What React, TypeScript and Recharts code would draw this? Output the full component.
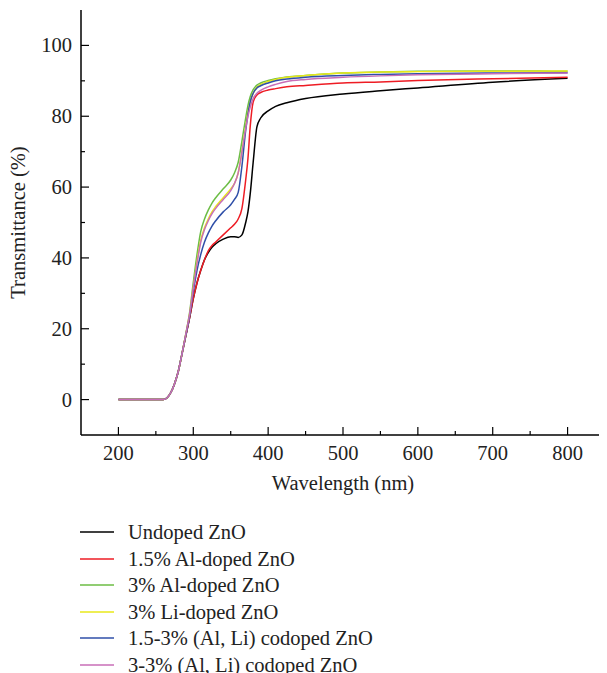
import React from "react";
import { LineChart, Line, XAxis, YAxis, Legend } from "recharts";

const WAVELENGTHS = [200, 255, 260, 265, 270, 275, 280, 285, 290, 295, 300, 305, 310, 315, 320, 325, 330, 340, 350, 355, 360, 365, 370, 373, 376, 380, 385, 390, 400, 410, 425, 450, 500, 550, 600, 700, 800];

const UNDOPED = [0, 0, 0, 0.5, 2, 4.5, 8, 13, 18, 23, 28.5, 33, 36.5, 39.5, 41.5, 43, 44, 45.3, 46, 46, 45.8, 46.5, 50, 53, 58, 67, 77, 79.5, 81.5, 82.8, 83.8, 85, 86.3, 87.2, 88, 89.6, 90.7];
const AL15 = [0, 0, 0, 0.5, 2, 4.5, 8, 13, 18, 23, 28.5, 33, 36.5, 39.5, 42, 43.5, 44.5, 46.5, 48.5, 49.5, 51, 54, 62, 68, 77, 84, 86, 86.7, 87.4, 87.8, 88.3, 88.7, 89.4, 89.7, 90.1, 90.6, 91];
const AL3 = [0, 0, 0, 0.5, 2, 4.5, 8, 13, 18.5, 24.5, 33, 41, 47.5, 51, 53.5, 55.5, 57, 59.5, 62, 64, 67, 73, 79.5, 83, 85.5, 87.5, 88.8, 89.4, 90.1, 90.6, 91.1, 91.5, 92.2, 92.5, 92.7, 92.8, 92.7];
const LI3 = [0, 0, 0, 0.5, 2, 4.5, 8, 13, 18.5, 24, 31.5, 39, 45, 48.5, 51, 53, 54.5, 57, 59.5, 61, 64, 70, 77, 81, 84, 86.5, 88.2, 89, 89.8, 90.4, 91, 91.5, 92.2, 92.5, 92.6, 92.7, 92.8];
const CO15 = [0, 0, 0, 0.5, 2, 4.5, 8, 13, 18.2, 23.5, 30.5, 36.5, 41, 44.5, 47, 49, 50.5, 53, 55, 56.5, 58.5, 66, 76, 80.5, 84, 86.5, 88, 88.6, 89.4, 90, 90.5, 91, 91.5, 91.8, 92, 92.2, 92.3];
const CO3 = [0, 0, 0, 0.5, 2, 4.5, 8, 13, 18.5, 24, 31.5, 38.5, 44.5, 48, 50.5, 52.5, 54, 56.5, 59, 61, 64, 70, 76.5, 80, 82.5, 85, 86.5, 87.3, 88.3, 89, 89.8, 90.4, 91, 91.4, 91.7, 92, 92.2];

const SERIES_NAMES = ["Undoped ZnO", "1.5% Al-doped ZnO", "3% Al-doped ZnO", "3% Li-doped ZnO", "1.5-3% (Al, Li) codoped ZnO", "3-3% (Al, Li) codoped ZnO"];
const SERIES_VALUES = [UNDOPED, AL15, AL3, LI3, CO15, CO3];
const SERIES_COLORS = ["#000000", "#ee1c24", "#6cbd45", "#e8e81a", "#2f4fa8", "#c86eb7"];

const X_TICKS = [200, 250, 300, 350, 400, 450, 500, 550, 600, 650, 700, 750, 800];
const Y_TICKS = [0, 10, 20, 30, 40, 50, 60, 70, 80, 90, 100];
const X_DOMAIN = [150, 850];
const Y_DOMAIN = [-10, 110];

const X_TITLE = "Wavelength (nm)";
const Y_TITLE = "Transmittance (%)";

const FONT = "'Liberation Serif', 'DejaVu Serif', serif";
const FS = 20.5;

const data = WAVELENGTHS.map((w, i) => {
  const row: any = { w };
  SERIES_VALUES.forEach((arr, k) => {
    row["s" + k] = arr[i];
  });
  return row;
});

const XTick = (props: any) => {
  const { x, y, payload } = props;
  const major = payload.value % 100 === 0;
  return (
    <g>
      <line x1={x} x2={x} y1={y} y2={y - (major ? 8 : 4)} stroke="#000" strokeWidth={1.2} />
      {major && (
        <text x={x} y={y + 18} textAnchor="middle" dominantBaseline="central" fontFamily={FONT} fontSize={FS} fill="#222">
          {payload.value}
        </text>
      )}
    </g>
  );
};

const YTick = (props: any) => {
  const { x, y, payload } = props;
  const major = payload.value % 20 === 0;
  return (
    <g>
      <line x1={x} x2={x + (major ? 8 : 4)} y1={y} y2={y} stroke="#000" strokeWidth={1.2} />
      {major && (
        <text x={x - 9} y={y} textAnchor="end" dominantBaseline="central" fontFamily={FONT} fontSize={FS} fill="#222">
          {payload.value}
        </text>
      )}
    </g>
  );
};

const XTitle = (props: any) => {
  const vb = props.viewBox;
  return (
    <text x={vb.x + vb.width / 2} y={vb.y + 48} textAnchor="middle" dominantBaseline="central" fontFamily={FONT} fontSize={FS} fill="#222">
      {X_TITLE}
    </text>
  );
};

const YTitle = (props: any) => {
  const vb = props.viewBox;
  const cx = vb.x + 10;
  const cy = vb.y + vb.height / 2;
  return (
    <text x={cx} y={cy} transform={`rotate(-90 ${cx} ${cy})`} textAnchor="middle" dominantBaseline="central" fontFamily={FONT} fontSize={FS} fill="#222">
      {Y_TITLE}
    </text>
  );
};

const LegendContent = () => (
  <div style={{ fontFamily: FONT, fontSize: FS, color: "#222", lineHeight: "26.5px" }}>
    {SERIES_NAMES.map((name, k) => (
      <div key={name} style={{ display: "flex", alignItems: "center", height: 26.5, whiteSpace: "nowrap" }}>
        <svg width={48} height={10} style={{ display: "block" }}>
          <line x1={0} x2={34} y1={5} y2={5} stroke={SERIES_COLORS[k]} strokeWidth={1.5} />
        </svg>
        <span>{name}</span>
      </div>
    ))}
  </div>
);

export default function App() {
  return (
    <LineChart width={599} height={665} data={data} margin={{ top: 2, right: 2, left: 0, bottom: 178 }}>
      <XAxis
        dataKey="w"
        type="number"
        domain={X_DOMAIN}
        ticks={X_TICKS}
        interval={0}
        allowDataOverflow
        tick={<XTick />}
        tickLine={false}
        tickSize={0}
        tickMargin={0}
        height={60}
        axisLine={{ stroke: "#000", strokeWidth: 1.5 }}
        label={<XTitle />}
      />
      <XAxis xAxisId="top" orientation="top" type="number" domain={X_DOMAIN} height={0} tick={false} tickLine={false} axisLine={{ stroke: "#000", strokeWidth: 1.5 }} />
      <YAxis
        type="number"
        domain={Y_DOMAIN}
        ticks={Y_TICKS}
        interval={0}
        allowDataOverflow
        tick={<YTick />}
        tickLine={false}
        tickSize={0}
        tickMargin={0}
        width={73}
        axisLine={{ stroke: "#000", strokeWidth: 1.5 }}
        label={<YTitle />}
      />
      <YAxis yAxisId="right" orientation="right" type="number" domain={Y_DOMAIN} width={0} tick={false} tickLine={false} axisLine={{ stroke: "#000", strokeWidth: 1.5 }} />
      <Legend
        layout="vertical"
        align="center"
        verticalAlign="middle"
        content={<LegendContent />}
        wrapperStyle={{ position: "absolute", top: 511, left: 72, width: 400 }}
      />
      {SERIES_NAMES.map((name, k) => (
        <Line
          key={name}
          name={name}
          dataKey={"s" + k}
          type="monotone"
          stroke={SERIES_COLORS[k]}
          strokeWidth={1.5}
          dot={false}
          isAnimationActive={false}
        />
      ))}
    </LineChart>
  );
}
